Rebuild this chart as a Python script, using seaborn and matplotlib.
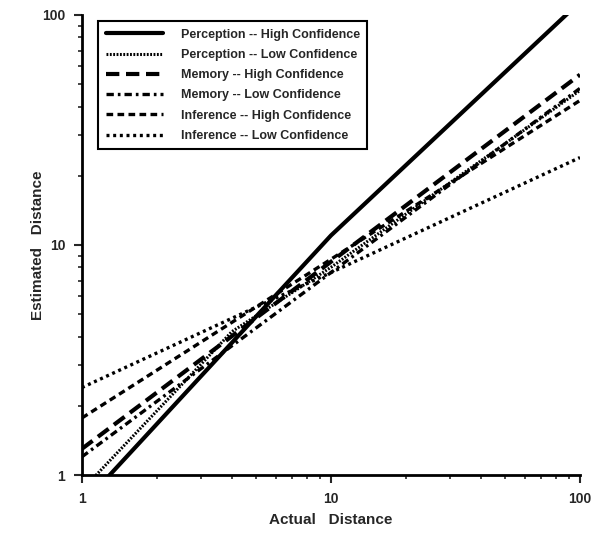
import pandas as pd
import matplotlib
matplotlib.use('Agg')
import matplotlib.pyplot as plt
import seaborn as sns

# values (log-log axes)
labels = ['Perception -- High Confidence', 'Perception -- Low Confidence',
          'Memory -- High Confidence', 'Memory -- Low Confidence',
          'Inference -- High Confidence', 'Inference -- Low Confidence']
perc_high_x = [1, 10, 100]
perc_high_y = [0.74, 11.0, 114]
perc_low_x = [1, 4, 10, 100]
perc_low_y = [0.86, 4.2, 8.0, 47]
mem_high_x = [1, 100]
mem_high_y = [1.3, 55]
mem_low_x = [1, 100]
mem_low_y = [1.2, 48]
inf_high_x = [1, 100]
inf_high_y = [1.77, 42.5]
inf_low_x = [1, 100]
inf_low_y = [2.4, 24]

series = [(perc_high_x, perc_high_y), (perc_low_x, perc_low_y),
          (mem_high_x, mem_high_y), (mem_low_x, mem_low_y),
          (inf_high_x, inf_high_y), (inf_low_x, inf_low_y)]
styles = [('-', 3.0), ((0, (0.6, 0.5)), 2.2), ((0, (3.2, 1.6)), 3.0),
          ((0, (2.2, 1.2, 0.8, 1.2)), 2.4), ((0, (2.0, 1.3)), 2.4),
          ((0, (0.9, 1.1)), 2.4)]

sns.set_style('ticks')
plt.rcParams['font.family'] = ['Liberation Sans', 'DejaVu Sans']
plt.rcParams['font.weight'] = 'bold'

fig = plt.figure(figsize=(6.07, 5.33), dpi=100)
ax = fig.add_axes([0.135, 0.1088, 0.8205, 0.8631])

for lab, (xs, ys), (ls, lw) in zip(labels, series, styles):
    df = pd.DataFrame({'x': xs, 'y': ys})
    sns.lineplot(data=df, x='x', y='y', ax=ax, color='black', linestyle=ls,
                 linewidth=lw, label=lab)

ax.set_xscale('log')
ax.set_yscale('log')
ax.set_xlim(1, 100)
ax.set_ylim(1, 100)
ax.set_xticks([1, 10, 100])
ax.set_xticklabels(['1', '10', '100'])
ax.set_yticks([1, 10, 100])
ax.set_yticklabels(['1', '10', '100'])
ax.tick_params(which='major', direction='out', length=6, width=1.5, labelsize=10, pad=6)
ax.tick_params(which='minor', direction='out', length=3, width=1.2)
sns.despine(ax=ax)
for s in ['left', 'bottom']:
    ax.spines[s].set_linewidth(2)
    ax.spines[s].set_color('black')

ax.set_xlabel('Actual   Distance', fontsize=11, fontweight='bold', labelpad=5)
ax.set_ylabel('Estimated   Distance', fontsize=11, fontweight='bold', labelpad=-2)

leg = ax.legend(loc='upper left', bbox_to_anchor=(0.02, 1.0), fontsize=9.0,
                frameon=True, fancybox=False, edgecolor='black',
                handlelength=4.6, handletextpad=1.4, labelspacing=0.66,
                borderpad=0.6)
leg.get_frame().set_linewidth(1.5)
leg.get_frame().set_alpha(1)

fig.savefig('out.png', dpi=100)
